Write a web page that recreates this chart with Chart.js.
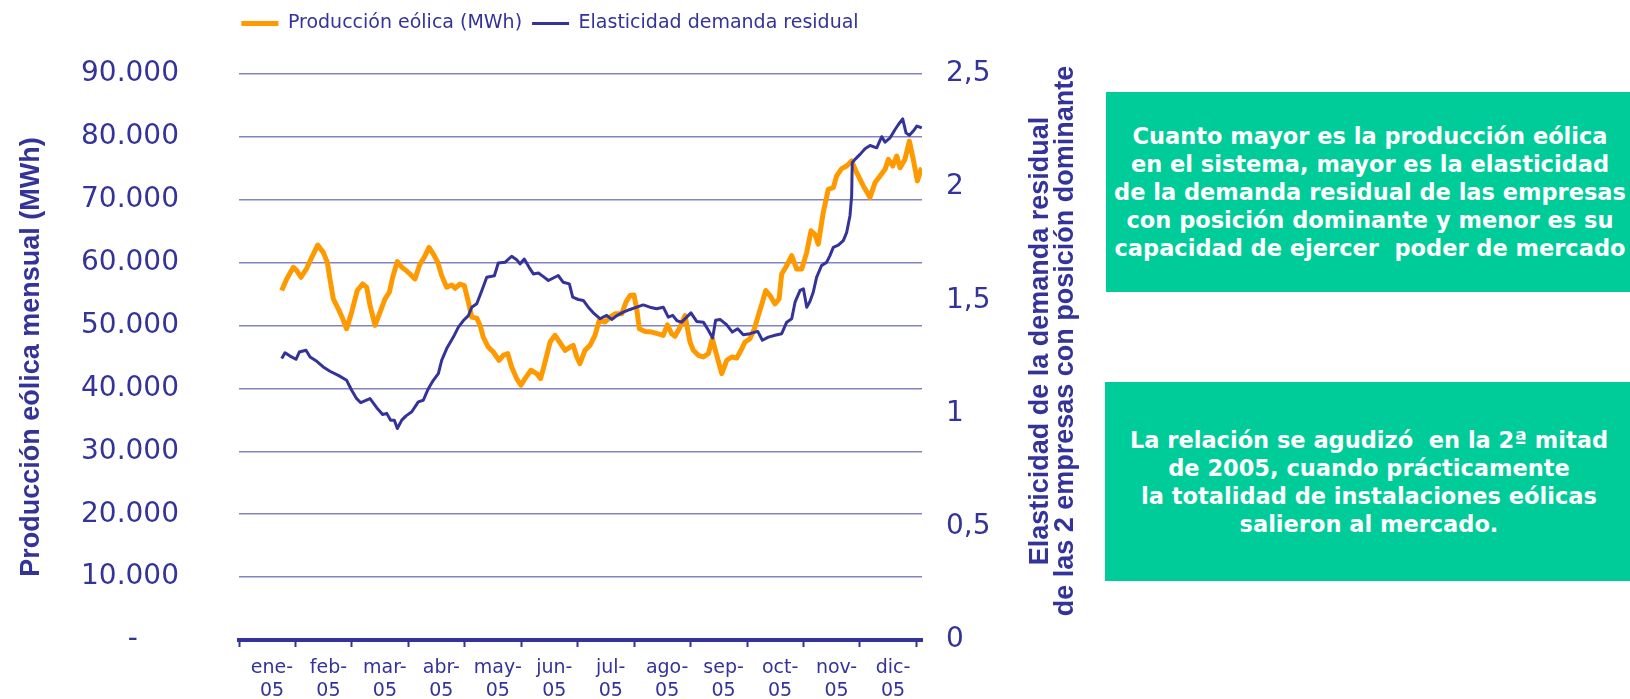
<!DOCTYPE html>
<html lang="es">
<head>
<meta charset="utf-8">
<title>Producción eólica y elasticidad de la demanda residual - 2005</title>
<script src="https://cdn.jsdelivr.net/npm/chart.js@4.4.0/dist/chart.umd.min.js"></script>
<style>
  html, body { margin: 0; padding: 0; background: #fff; }
  body { width: 1630px; height: 699px; overflow: hidden; position: relative; }
  #grafico { position: absolute; left: 0; top: 0; width: 1100px; height: 699px; }
  .nota {
    position: absolute;
    background: #00cc99;
    color: #fff;
    display: flex;
    align-items: center;
    justify-content: center;
    font: bold 22.5px "DejaVu Sans", Verdana, sans-serif;
    line-height: 28px;
  }
  .nota div { white-space: pre; text-align: center; }
</style>
</head>
<body>
<div id="grafico"><canvas id="eolicaChart"></canvas></div>
<div class="nota" style="left:1106px; top:92px; width:528px; height:200px;"><div>Cuanto mayor es la producción eólica
en el sistema, mayor es la elasticidad
de la demanda residual de las empresas
con posición dominante y menor es su
capacidad de ejercer  poder de mercado</div></div>
<div class="nota" style="left:1105px; top:382px; width:528px; height:199px;"><div>La relación se agudizó  en la 2ª mitad
de 2005, cuando prácticamente
la totalidad de instalaciones eólicas
salieron al mercado.</div></div>
<script>
// Valores: día del año 2005 y valor de cada serie

// Producción eólica (MWh), eje izquierdo
const diasEolica = [23, 25.7, 29.3, 31.1, 33.4, 36.5, 39.2, 42.4, 45.4, 47.6, 49, 50.8, 53.5, 55.9, 58,
  60.7, 63.7, 66.6, 68.8, 70.6, 73.3, 76, 78.7, 81, 82.8, 85.3, 87.7, 89.9, 92.1, 94.8, 97.5, 99.8,
  102.4, 104.7, 107.1, 109.2, 111.9, 114.6, 116.4, 119.1, 121.4, 123.6, 125.4, 128.1, 129.9, 131.6,
  134.3, 137, 140.1, 142.4, 144.8, 146.9, 149.6, 151.9, 154.1, 157.3, 160.4, 162.5, 164.3, 165.8,
  167.6, 170.3, 173, 175.7, 178.4, 180.1, 182, 183.7, 186.4, 189.1, 191.8, 194.1, 197.2, 199.9,
  202.6, 206.2, 208.5, 210.7, 212.8, 214.3, 215.7, 218.8, 222.4, 225.9, 228.6, 230.8, 233.1, 234.9,
  237.4, 240.3, 243, 244.8, 247.5, 250.2, 252.9, 255, 257.4, 260.1, 262.8, 265.5, 268.2, 270.9,
  272.6, 275.3, 277.7, 279.8, 282, 283.8, 286.1, 288.8, 291, 292.4, 295.1, 297.8, 300.5, 303.2,
  305.9, 308.2, 310.3, 312.1, 314.8, 317.5, 320.2, 322, 324.7, 327.4, 330.1, 332.8, 336.4, 340,
  342.7, 345.4, 348.1, 349.9, 352.2, 354.4, 356.2, 358.8, 361.2, 363.3, 365.5, 367.5, 368];
const produccionEolica = [55570, 57410, 59260, 58740, 57680, 59100, 60850, 62790, 61640, 60050, 57410,
  54240, 52650, 51070, 49490, 52130, 55570, 56610, 56090, 53190, 50020, 52130, 54240, 55300, 57680,
  60160, 59260, 58800, 58200, 57410, 59780, 60850, 62430, 61370, 60050, 57940, 56090, 56460, 55930,
  56610, 56360, 53720, 51340, 51180, 50020, 48170, 46580, 45790, 44480, 45270, 45530, 43420, 41560,
  40520, 41560, 42890, 42360, 41560, 43500, 45270, 47380, 48440, 47270, 46060, 46580, 46850, 45000,
  43940, 46060, 46850, 48440, 50810, 50550, 51340, 51860, 51860, 53720, 54770, 54870, 52650, 49490,
  49070, 48960, 48690, 48440, 50120, 48690, 48300, 49600, 51600, 47380, 46060, 45270, 45000, 45530,
  47900, 45270, 42360, 44480, 45000, 44840, 46310, 47380, 47900, 49490, 51600, 53720, 55570, 54770,
  53440, 54240, 58200, 59530, 61110, 58990, 58990, 61640, 65080, 64500, 62950, 67980, 71670, 71940,
  73790, 74950, 75370, 76170, 74310, 72200, 70350, 72730, 73790, 74840, 76420, 75370, 76960, 75100,
  76420, 79330, 76420, 73000, 74840, 74950];

// Elasticidad de la demanda residual, eje derecho
const diasElasticidad = [23, 24.8, 27.5, 30.7, 32.5, 36.1, 38.3, 41.9, 45.4, 49, 53.5, 58, 60.7, 63.4,
  65.6, 70.6, 74.2, 77.4, 79.6, 81.7, 83.7, 85.3, 87.7, 90, 93.1, 96.6, 99.3, 102, 104.7, 107.4,
  109.2, 111.9, 115.5, 118.2, 120.9, 123.6, 125.4, 128.1, 130.8, 133.5, 137.6, 139.7, 143.3, 146.9,
  149.6, 151.4, 153.7, 156.3, 158.6, 161.3, 164, 166.7, 172, 174.7, 178, 179.8, 182.8, 185.5, 188.2,
  190.9, 194.5, 198.1, 200.8, 203.8, 207.1, 210.7, 214.3, 217.8, 221.4, 225, 228.6, 231.3, 233.7,
  236, 238.5, 243.5, 246.6, 250.2, 252.9, 255.2, 256.8, 259.2, 262.8, 265.8, 268.7, 271.7, 275.3,
  279.5, 282, 285.2, 288.8, 292.4, 295.1, 297.8, 299.6, 302.3, 304.1, 305.9, 307.6, 309.4, 311.2,
  313.9, 316.6, 318.4, 320.2, 322.9, 325.6, 327.4, 329.2, 330.1, 330.4, 331.9, 334.6, 337.3, 340,
  343.6, 346.3, 348.1, 350.8, 353.5, 355.3, 357.6, 359.4, 361.2, 363.3, 365.2, 367.9];
const elasticidad = [1.243, 1.269, 1.254, 1.240, 1.272, 1.280, 1.250, 1.231, 1.206, 1.187, 1.169, 1.147,
  1.103, 1.066, 1.048, 1.066, 1.026, 0.996, 1.001, 0.971, 0.971, 0.934, 0.971, 0.990, 1.008, 1.052,
  1.059, 1.110, 1.147, 1.177, 1.235, 1.287, 1.338, 1.382, 1.411, 1.433, 1.470, 1.485, 1.543, 1.602,
  1.609, 1.665, 1.668, 1.695, 1.680, 1.661, 1.683, 1.646, 1.617, 1.621, 1.605, 1.588, 1.610, 1.580,
  1.573, 1.514, 1.504, 1.500, 1.470, 1.445, 1.419, 1.434, 1.416, 1.434, 1.448, 1.460, 1.470, 1.480,
  1.470, 1.463, 1.470, 1.426, 1.434, 1.410, 1.404, 1.445, 1.407, 1.404, 1.368, 1.334, 1.412, 1.416,
  1.392, 1.360, 1.375, 1.348, 1.353, 1.363, 1.324, 1.338, 1.346, 1.353, 1.404, 1.419, 1.492, 1.544,
  1.551, 1.470, 1.495, 1.536, 1.602, 1.654, 1.668, 1.698, 1.734, 1.744, 1.764, 1.800, 1.874, 1.962,
  2.108, 2.123, 2.145, 2.170, 2.184, 2.174, 2.223, 2.199, 2.218, 2.255, 2.277, 2.302, 2.240, 2.229,
  2.248, 2.270, 2.262];

// Etiquetas del eje de categorías
const meses = ['ene', 'feb', 'mar', 'abr', 'may', 'jun', 'jul', 'ago', 'sep', 'oct', 'nov', 'dic'];
const anio = '05';
const tituloIzquierdo = 'Producción eólica mensual (MWh)';
const tituloDerecho = ['Elasticidad de la demanda residual', 'de las 2 empresas con posición dominante'];

const azul = '#333399';
const naranja = '#ff9900';
const rejilla = '#8383c1';

// Separador de miles con punto
function formatoMiles(v) {
  return String(v).replace(/\B(?=(\d{3})+(?!\d))/g, '.');
}

// Ancho fijo del eje y sin el margen extra que Chart.js añade arriba/abajo
function fijarEje(ancho) {
  return (eje) => {
    eje.width = ancho;
    eje.paddingTop = 0;
    eje.paddingBottom = 0;
  };
}

// Título del eje derecho, leído de abajo arriba como el izquierdo
const tituloEjeDerecho = {
  id: 'tituloEjeDerecho',
  afterDraw(chart) {
    const eje = chart.scales.y1;
    const ctx = chart.ctx;
    ctx.save();
    ctx.fillStyle = azul;
    ctx.font = 'bold 27px "Liberation Sans", Arial, sans-serif';
    ctx.textAlign = 'center';
    ctx.textBaseline = 'middle';
    tituloDerecho.forEach((linea, i) => {
      ctx.save();
      ctx.translate(eje.left + 119 + i * 25, chart.chartArea.top + 267);
      ctx.rotate(-Math.PI / 2);
      ctx.fillText(linea, 0, 0);
      ctx.restore();
    });
    ctx.restore();
  }
};

function initEolicaChart(chartId) {
  const ctx = document.getElementById(chartId);
  if (!ctx) return null;

  // Un tick por mes (eje de categorías repartido en 12 partes iguales)
  const inicioMes = Array.from({length: meses.length + 1}, (_, i) => i * 365 / meses.length);

  return new Chart(ctx, {
    type: 'line',
    data: {
      datasets: [
        {
          label: 'Producción eólica (MWh)',
          data: diasEolica.map((d, i) => ({x: d, y: produccionEolica[i]})),
          yAxisID: 'y',
          borderColor: naranja,
          backgroundColor: naranja,
          borderWidth: 5,
          pointRadius: 0,
          tension: 0,
          borderJoinStyle: 'round',
          order: 1
        },
        {
          label: 'Elasticidad demanda residual',
          data: diasElasticidad.map((d, i) => ({x: d, y: elasticidad[i]})),
          yAxisID: 'y1',
          borderColor: azul,
          backgroundColor: azul,
          borderWidth: 3,
          pointRadius: 0,
          tension: 0,
          borderJoinStyle: 'round',
          order: 0
        }
      ]
    },
    options: {
      responsive: true,
      maintainAspectRatio: false,
      animation: false,
      layout: {
        padding: {top: 4, left: 0, right: 0, bottom: 0}
      },
      plugins: {
        legend: {
          position: 'top',
          labels: {
            color: azul,
            font: {family: 'DejaVu Sans', size: 19},
            usePointStyle: true,
            pointStyle: 'line',
            pointStyleWidth: 37,
            padding: 10,
            sort: (a, b) => a.datasetIndex - b.datasetIndex
          }
        },
        // hueco vacío entre la leyenda y el área del gráfico
        title: {
          display: true,
          text: '',
          weight: 500,
          padding: 0,
          font: {size: 31, lineHeight: 1}
        },
        tooltip: {
          mode: 'index',
          intersect: false
        }
      },
      scales: {
        x: {
          type: 'linear',
          min: 0,
          max: 368,
          afterBuildTicks: (eje) => { eje.ticks = inicioMes.map(v => ({value: v})); },
          afterFit: (eje) => { eje.height = 59; },
          grid: {
            drawOnChartArea: false,
            drawTicks: true,
            tickLength: 7,
            tickWidth: 2,
            tickColor: azul
          },
          border: {color: azul, width: 4},
          ticks: {
            autoSkip: false,
            maxRotation: 0,
            padding: 9,
            labelOffset: 33,
            color: azul,
            font: {family: 'DejaVu Sans', size: 19, lineHeight: 1.23},
            callback: (v, i) => i < meses.length ? [meses[i] + '-', anio] : ''
          }
        },
        y: {
          position: 'left',
          min: 0,
          max: 90000,
          afterFit: fijarEje(239),
          ticks: {
            stepSize: 10000,
            padding: 60,
            color: azul,
            font: {family: 'DejaVu Sans', size: 28},
            callback: v => v === 0 ? '-    \u2009' : formatoMiles(v)
          },
          grid: {
            color: c => c.tick && c.tick.value === 0 ? 'rgba(0,0,0,0)' : rejilla,
            lineWidth: 1.5,
            drawTicks: false
          },
          border: {display: false},
          title: {
            display: true,
            text: tituloIzquierdo,
            color: azul,
            font: {family: 'Liberation Sans', size: 27, weight: 'bold', lineHeight: 1.2},
            padding: {top: 15, bottom: 0}
          }
        },
        y1: {
          position: 'right',
          min: 0,
          max: 2.5,
          afterFit: fijarEje(178),
          ticks: {
            stepSize: 0.5,
            padding: 24,
            color: azul,
            font: {family: 'DejaVu Sans', size: 28},
            callback: v => String(v).replace('.', ',')
          },
          grid: {display: false, drawTicks: false},
          border: {display: false}
        }
      }
    },
    plugins: [tituloEjeDerecho]
  });
}

document.addEventListener('DOMContentLoaded', function() {
  initEolicaChart('eolicaChart');
});
</script>
</body>
</html>
